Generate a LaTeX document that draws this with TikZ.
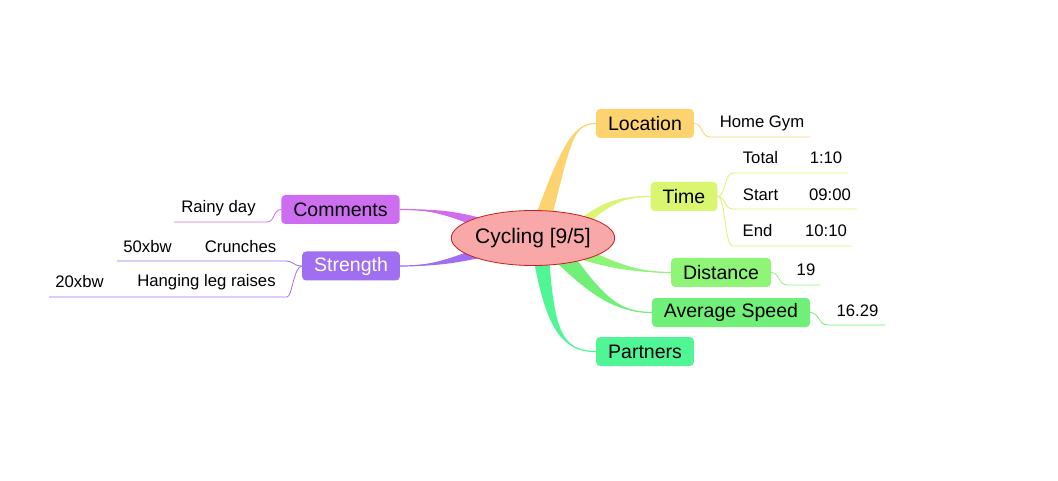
\documentclass[tikz,border=0pt]{standalone}
\usepackage{fontspec}
\setmainfont{Liberation Sans}
\usetikzlibrary{shapes.geometric,calc}
\pgfdeclarelayer{paper}
\pgfdeclarelayer{background}
\pgfsetlayers{paper,background,main}
\definecolor{cloc}{RGB}{253,211,111}
\definecolor{ctime}{RGB}{218,245,112}
\definecolor{cdist}{RGB}{142,245,118}
\definecolor{cavg}{RGB}{112,240,120}
\definecolor{cpart}{RGB}{80,245,150}
\definecolor{ccom}{RGB}{205,110,240}
\definecolor{cstr}{RGB}{160,110,240}
\definecolor{cell}{RGB}{248,168,168}
\definecolor{cborder}{RGB}{200,30,30}
\tikzset{
  topic/.style={rounded corners=4pt, minimum height=29pt, inner xsep=12pt, inner ysep=0pt, font=\fontsize{19.5}{22}\selectfont},
  leaf/.style={inner sep=0pt, font=\fontsize{16.7}{19}\selectfont},
  sub/.style={line width=0.8pt},
}
\newcommand\tbranch[6]{%
  \fill[#1] ($#2+#6$) .. controls ($#3+0.5*#6$) and #4 .. #5 .. controls #4 and ($#3-0.5*#6$) .. ($#2-#6$) -- cycle;
  \draw[#1, line width=1.2pt] #2 .. controls #3 and #4 .. #5;
}
\begin{document}
\begin{tikzpicture}[x=1pt,y=-1pt]
\begin{pgfonlayer}{paper}
\fill[white] (0,0) rectangle (1058,481);
\end{pgfonlayer}
\useasboundingbox (0,0) rectangle (1058,481);
\node[ellipse, draw=cborder, fill=cell, line width=0.8pt, minimum width=158pt, minimum height=55pt, inner sep=0pt, font=\fontsize{21}{24}\selectfont] (c) at (533,238) {Cycling [9/5]};
\node[topic, fill=cloc] (loc) at (645,123.5) {Location};
\node[topic, fill=ctime] (time) at (684,196.5) {Time};
\node[topic, fill=cdist] (dist) at (721,272.5) {Distance};
\node[topic, fill=cavg] (avg) at (731,312.5) {Average Speed};
\node[topic, fill=cpart] (part) at (645,351.5) {Partners};
\node[topic, fill=ccom] (com) at (340.5,209.5) {Comments};
\node[topic, fill=cstr, text=white] (str) at (351,266) {Strength};
% leaves
\node[leaf] (hg) at (762,123) {Home Gym};
\coordinate (hgA) at (710,137); \coordinate (hgB) at (810,137);
\draw[sub, cloc] (loc.east) .. controls (703,123.5) and (701,137) .. (hgA) -- (hgB);
\node[leaf] (tot) at (760.5,158) {Total};
\node[leaf] (totv) at (826,158) {1:10};
\coordinate (t1a) at (733,173); \coordinate (t1b) at (848,173);
\draw[sub, ctime] (time.east) .. controls (726,196.5) and (724,173) .. (t1a) -- (t1b);
\node[leaf] (st) at (760.5,194.5) {Start};
\node[leaf] (stv) at (830,194.5) {09:00};
\coordinate (t2a) at (733,209); \coordinate (t2b) at (857,209);
\draw[sub, ctime] (time.east) .. controls (726,196.5) and (724,209) .. (t2a) -- (t2b);
\node[leaf] (en) at (757.5,231) {End};
\node[leaf] (env) at (826,231) {10:10};
\coordinate (t3a) at (733,246); \coordinate (t3b) at (852,246);
\draw[sub, ctime] (time.east) .. controls (726,196.5) and (724,246) .. (t3a) -- (t3b);
\node[leaf] (d19) at (806,270) {19};
\coordinate (d1a) at (787,285); \coordinate (d1b) at (820,285);
\draw[sub, cdist] (dist.east) .. controls (779,272.5) and (779,285) .. (d1a) -- (d1b);
\node[leaf] (sp) at (857.5,311) {16.29};
\coordinate (s1a) at (827,325); \coordinate (s1b) at (885,325);
\draw[sub, cavg] (avg.east) .. controls (819,312.5) and (819,325) .. (s1a) -- (s1b);
\node[leaf] (rd) at (218.5,208) {Rainy day};
\coordinate (r1a) at (267,222); \coordinate (r1b) at (174,222);
\draw[sub, ccom] (com.west) .. controls (273,209.5) and (275,222) .. (r1a) -- (r1b);
\node[leaf] (cr1) at (147.5,246.5) {50xbw};
\node[leaf] (cr2) at (240.5,246.5) {Crunches};
\coordinate (c1a) at (285,261); \coordinate (c1b) at (117,261);
\draw[sub, cstr] (str.west) .. controls (293,266) and (294,261) .. (c1a) -- (c1b);
\node[leaf] (hl1) at (79.5,282) {20xbw};
\node[leaf] (hl2) at (206.5,282) {Hanging leg raises};
\coordinate (h1a) at (287,297); \coordinate (h1b) at (49,297);
\draw[sub, cstr] (str.west) .. controls (294,266) and (292,297) .. (h1a) -- (h1b);
% branches
\begin{pgfonlayer}{background}
\tbranch{cloc}{(540,228)}{(566,145)}{(572,123.5)}{(loc.west)}{(9,0)}
\tbranch{ctime}{(580,225)}{(608,201)}{(625,196.5)}{(time.west)}{(0,6)}
\tbranch{cdist}{(580,252)}{(612,266)}{(640,272.5)}{(dist.west)}{(0,7)}
\tbranch{cavg}{(562,255)}{(597,295)}{(617,312.5)}{(avg.west)}{(7,-6)}
\tbranch{cpart}{(541,255)}{(550,330)}{(562,351.5)}{(part.west)}{(8,0)}
\tbranch{ccom}{(488,226)}{(450,212)}{(430,209.5)}{(com.east)}{(0,6)}
\tbranch{cstr}{(488,250)}{(450,262)}{(430,266)}{(str.east)}{(0,6)}
\end{pgfonlayer}
\end{tikzpicture}
\end{document}
